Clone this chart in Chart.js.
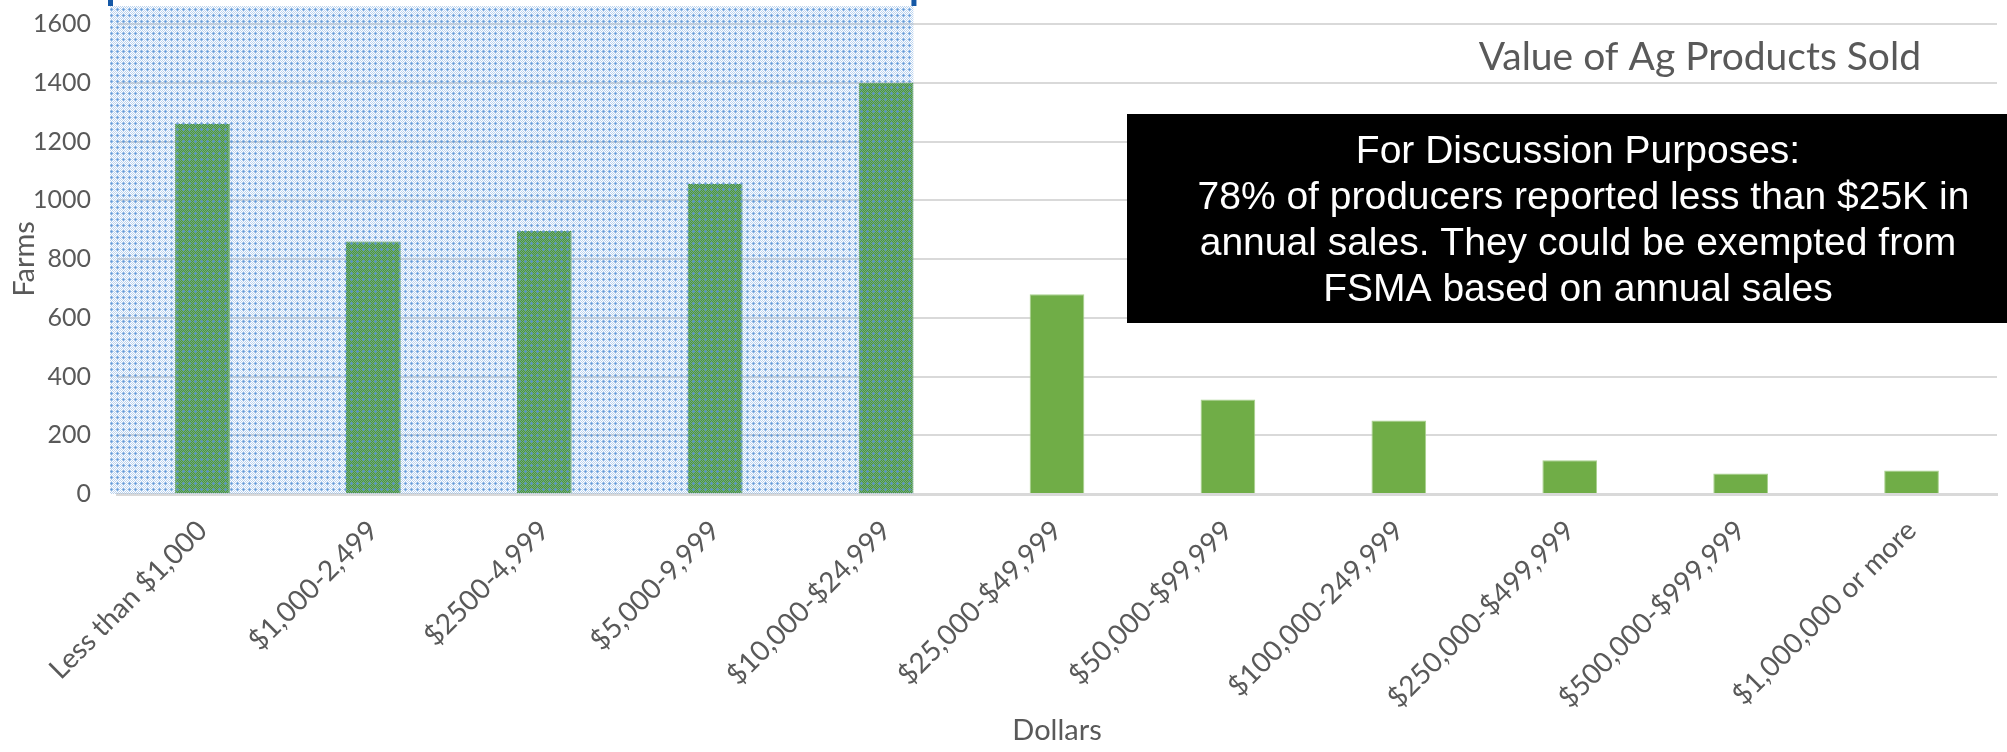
<!DOCTYPE html>
<html>
<head>
<meta charset="utf-8">
<script src="https://cdn.jsdelivr.net/npm/chart.js@4"></script>
<style>
  html, body { margin: 0; padding: 0; background: #fff; }
  #wrap { width: 2007px; height: 752px; position: relative; }
</style>
</head>
<body>
<div id="wrap"><canvas id="chart"></canvas></div>
<script>
// Farms by value of ag products sold
const categories = [
  "Less than $1,000", "$1,000-2,499", "$2500-4,999", "$5,000-9,999",
  "$10,000-$24,999", "$25,000-$49,999", "$50,000-$99,999",
  "$100,000-249,999", "$250,000-$499,999", "$500,000-$999,999",
  "$1,000,000 or more"
];
const farms = [1260, 860, 895, 1055, 1400, 680, 322, 250, 115, 70, 80];
const yMax = 1600;
const yStep = 200;
const shadedCount = 5; // first 5 categories are under the highlighted area

const chartTitle = "Value of Ag Products Sold";
const noteLines = [
  "For Discussion Purposes:",
  " 78% of producers reported less than $25K in",
  "annual sales. They could be exempted from",
  "FSMA based on annual sales"
];

const GREEN = "#70ad47";
const GREEN_DARK = "#509a30"; // shows as a darker green once the dotted overlay sits on it
const GRAY = "#595959";

function makePattern(ctx) {
  const c = document.createElement("canvas");
  c.width = 6;
  c.height = 6;
  const p = c.getContext("2d");
  for (let y = 0; y < 6; y++) {
    for (let x = 0; x < 6; x++) {
      if ((x + y) % 2 === 0) {
        p.fillStyle = "rgba(130,175,225,0.55)";
        p.fillRect(x, y, 1, 1);
      }
    }
  }
  p.fillStyle = "rgba(91,150,215,0.75)";
  p.fillRect(3, 2, 1, 3);
  p.fillRect(2, 3, 3, 1);
  return ctx.createPattern(c, "repeat");
}

// highlighted area over the first bars, plus title and the note box
const overlayPlugin = {
  id: "overlay",
  afterDatasetsDraw(chart) {
    const { ctx, chartArea } = chart;
    const bars = chart.getDatasetMeta(0).data;
    const last = bars[shadedCount - 1];
    const left = chartArea.left - 7;
    const right = last.x + last.width / 2;
    const top = chartArea.top - 18;
    const bottom = chartArea.bottom;

    ctx.save();
    ctx.fillStyle = makePattern(ctx);
    ctx.fillRect(left, top, right - left, bottom - top);

    // selection handles peeking at the top edge
    ctx.fillStyle = "#1558a6";
    ctx.fillRect(left - 2, 0, 5, top);
    ctx.fillRect(right - 2, 0, 5, top);
    ctx.restore();
  },
  afterDraw(chart) {
    const { ctx, chartArea } = chart;
    ctx.save();

    // title, sitting inside the plot area on the right
    ctx.font = "39px Lato";
    ctx.fillStyle = GRAY;
    ctx.textAlign = "right";
    ctx.textBaseline = "alphabetic";
    ctx.fillText(chartTitle, chartArea.right - 76, 70);

    // black note box
    const boxLeft = 1127, boxTop = 114, boxBottom = 323;
    ctx.fillStyle = "#000";
    ctx.fillRect(boxLeft, boxTop, chart.width - boxLeft, boxBottom - boxTop);

    ctx.fillStyle = "#fff";
    ctx.font = "39px 'Liberation Sans', Arial, sans-serif";
    ctx.textAlign = "center";
    ctx.textBaseline = "middle";
    const cx = 1578;
    noteLines.forEach((line, i) => {
      ctx.fillText(line, cx, 152 + i * 46);
    });
    ctx.restore();
  }
};

const ctx = document.getElementById("chart").getContext("2d");

new Chart(ctx, {
  type: "bar",
  data: {
    labels: categories,
    datasets: [
      {
        label: "Farms",
        data: farms,
        backgroundColor: farms.map((_, i) => (i < shadedCount ? GREEN_DARK : GREEN)),
        borderColor: farms.map((_, i) => (i < shadedCount ? GREEN_DARK : "#a9d18e")),
        borderWidth: 1,
        categoryPercentage: 0.32,
        barPercentage: 1,
      },
    ],
  },
  options: {
    responsive: true,
    maintainAspectRatio: false,
    animation: false,
    layout: { padding: { top: 24, right: 10, left: 0, bottom: 0 } },
    plugins: {
      legend: { display: false },
      title: { display: false },
      tooltip: { enabled: false },
    },
    scales: {
      x: {
        grid: { display: false, drawTicks: false },
        border: { display: true, color: "#d9d9d9", width: 3 },
        ticks: {
          color: GRAY,
          font: { family: "Lato", size: 28 },
          minRotation: 45,
          maxRotation: 45,
          autoSkip: false,
          padding: 20,
        },
        title: {
          display: true,
          text: "Dollars",
          color: GRAY,
          font: { family: "Lato", size: 29 },
          padding: { top: 0, bottom: 4 },
        },
        afterFit(scale) {
          scale.height = 258;
        },
      },
      y: {
        min: 0,
        max: yMax,
        ticks: {
          stepSize: yStep,
          color: GRAY,
          font: { family: "Lato", size: 25 },
          padding: 4,
          callback: (v) => String(v),
        },
        grid: {
          color: "#d9d9d9",
          lineWidth: 2,
          drawTicks: true,
          tickLength: 22,
          tickColor: "rgba(0,0,0,0)",
        },
        border: { display: false },
        title: {
          display: true,
          text: "Farms",
          color: GRAY,
          font: { family: "Lato", size: 29 },
          padding: { top: 7, bottom: 0 },
        },
        afterFit(scale) {
          scale.width = 117;
        },
      },
    },
  },
  plugins: [overlayPlugin],
});
</script>
</body>
</html>
